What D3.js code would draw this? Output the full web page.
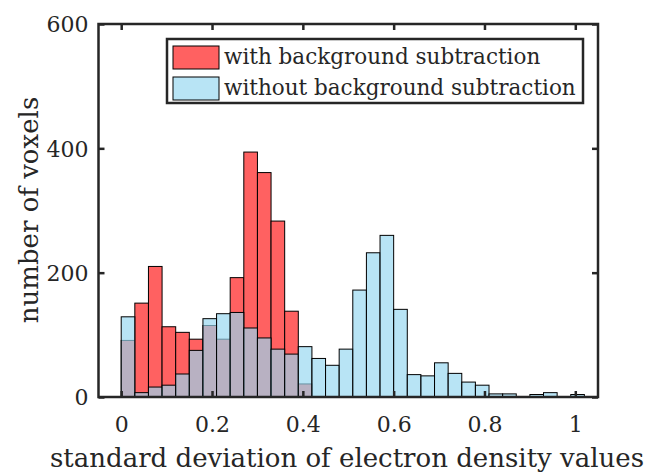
<!DOCTYPE html>
<html>
<head>
<meta charset="utf-8">
<script src="https://cdn.jsdelivr.net/npm/d3@7"></script>
<style>
  html, body { margin: 0; padding: 0; background: #fff; }
  svg text { font-family: "DejaVu Serif", serif; fill: #262626; }
</style>
</head>
<body>
<div id="chart"></div>
<script>
;(function () {
  // left edge of each histogram bin (bin width 0.03)
  const binStarts = [0, 0.03, 0.06, 0.09, 0.12, 0.15, 0.18, 0.21, 0.24, 0.27, 0.3, 0.33,
    0.36, 0.39, 0.42, 0.45, 0.48, 0.51, 0.54, 0.57, 0.6, 0.63, 0.66, 0.69, 0.72, 0.75,
    0.78, 0.81, 0.84, 0.87, 0.9, 0.93, 0.96, 0.99]
  const binWidth = 0.03

  const withSub = [91, 151, 210, 113, 104, 93, 115, 93, 192, 394, 361, 283,
    138, 21, 0, 0, 0, 0, 0, 0, 0, 0, 0, 0, 0, 0,
    0, 0, 0, 0, 0, 0, 0, 0]
  const withoutSub = [129, 7, 16, 19, 37, 75, 126, 134, 136, 111, 95, 77,
    69, 81, 62, 51, 77, 172, 232, 260, 141, 36, 34, 55, 38, 24,
    19, 5, 5, 0, 4, 7, 0, 4]

  const xTicks = [0, 0.2, 0.4, 0.6, 0.8, 1]
  const yTicks = [0, 200, 400, 600]
  const seriesNames = ["with background subtraction", "without background subtraction"]

  const width = 653
  const height = 472
  const left = 98.5, right = 598, top = 24, bottom = 397

  const svg = d3.select("#chart").append("svg").attr("width", width).attr("height", height)

  const x = d3.scaleLinear().domain([-0.05, 1.05]).range([left, right])
  const y = d3.scaleLinear().domain([0, 600]).range([bottom, top])

  const redFill = "#ff6161"
  const blueFill = "rgb(150,215,240)"
  const blueAlpha = 0.68

  // red histogram first, blue drawn over it semi transparent
  svg.append("g")
    .selectAll("rect")
    .data(binStarts.map((b, i) => ({ b, v: withSub[i] })).filter(d => d.v > 0))
    .join("rect")
    .attr("x", d => x(d.b))
    .attr("width", d => x(d.b + binWidth) - x(d.b))
    .attr("y", d => y(d.v))
    .attr("height", d => y(0) - y(d.v))
    .attr("fill", redFill)
    .attr("stroke", "#000")
    .attr("stroke-width", 1)

  svg.append("g")
    .selectAll("rect")
    .data(binStarts.map((b, i) => ({ b, v: withoutSub[i] })).filter(d => d.v > 0))
    .join("rect")
    .attr("x", d => x(d.b))
    .attr("width", d => x(d.b + binWidth) - x(d.b))
    .attr("y", d => y(d.v))
    .attr("height", d => y(0) - y(d.v))
    .attr("fill", blueFill)
    .attr("fill-opacity", blueAlpha)
    .attr("stroke", "#000")
    .attr("stroke-width", 1)

  // axes, ticks pointing inward, box on
  const tickLen = 6
  const axisColor = "#262626"
  const bottomAxis = d3.axisBottom(x).tickValues(xTicks).tickSizeInner(-tickLen).tickSizeOuter(0).tickFormat(d3.format("~g"))
  const topAxis = d3.axisTop(x).tickValues(xTicks).tickSizeInner(-tickLen).tickSizeOuter(0).tickFormat("")
  const leftAxis = d3.axisLeft(y).tickValues(yTicks).tickSizeInner(-tickLen).tickSizeOuter(0)
  const rightAxis = d3.axisRight(y).tickValues(yTicks).tickSizeInner(-tickLen).tickSizeOuter(0).tickFormat("")

  function styleAxis(g) {
    g.select(".domain").remove()
    g.selectAll(".tick line").attr("stroke", axisColor).attr("stroke-width", 2.5)
    g.selectAll(".tick text").attr("fill", axisColor).style("font-family", "DejaVu Serif").style("font-size", "22px")
  }

  svg.append("g").attr("transform", `translate(0,${bottom})`).call(bottomAxis).call(styleAxis)
    .selectAll(".tick text").attr("y", 35).attr("dy", 0)
  svg.append("g").attr("transform", `translate(0,${top})`).call(topAxis).call(styleAxis)
  svg.append("g").attr("transform", `translate(${left},0)`).call(leftAxis).call(styleAxis)
    .selectAll(".tick text").attr("x", -10).attr("dy", "0.36em")
  svg.append("g").attr("transform", `translate(${right},0)`).call(rightAxis).call(styleAxis)

  // box
  svg.append("rect")
    .attr("x", left).attr("y", top)
    .attr("width", right - left).attr("height", bottom - top)
    .attr("fill", "none").attr("stroke", axisColor).attr("stroke-width", 2.5)

  // axis labels
  svg.append("text")
    .attr("x", 347).attr("y", 467)
    .attr("text-anchor", "middle")
    .style("font-size", "26px")
    .text("standard deviation of electron density values")

  svg.append("text")
    .attr("transform", "translate(38,210) rotate(-90)")
    .attr("text-anchor", "middle")
    .style("font-size", "26px")
    .text("number of voxels")

  // legend
  const legend = svg.append("g")
  legend.append("rect")
    .attr("x", 167).attr("y", 39).attr("width", 416).attr("height", 64)
    .attr("fill", "#fff").attr("stroke", axisColor).attr("stroke-width", 2.5)

  const rows = [
    { name: seriesNames[0], fill: redFill, op: 1, y: 46 },
    { name: seriesNames[1], fill: blueFill, op: blueAlpha, y: 77 }
  ]
  const row = legend.selectAll(".row").data(rows).join("g").attr("class", "row")
  row.append("rect")
    .attr("x", 173).attr("y", d => d.y).attr("width", 46).attr("height", 23)
    .attr("fill", d => d.fill).attr("fill-opacity", d => d.op)
    .attr("stroke", "#000").attr("stroke-width", 1)
  row.append("text")
    .attr("x", 224).attr("y", d => d.y + 17.5)
    .style("font-size", "21.5px")
    .text(d => d.name)
})()
</script>
</body>
</html>
